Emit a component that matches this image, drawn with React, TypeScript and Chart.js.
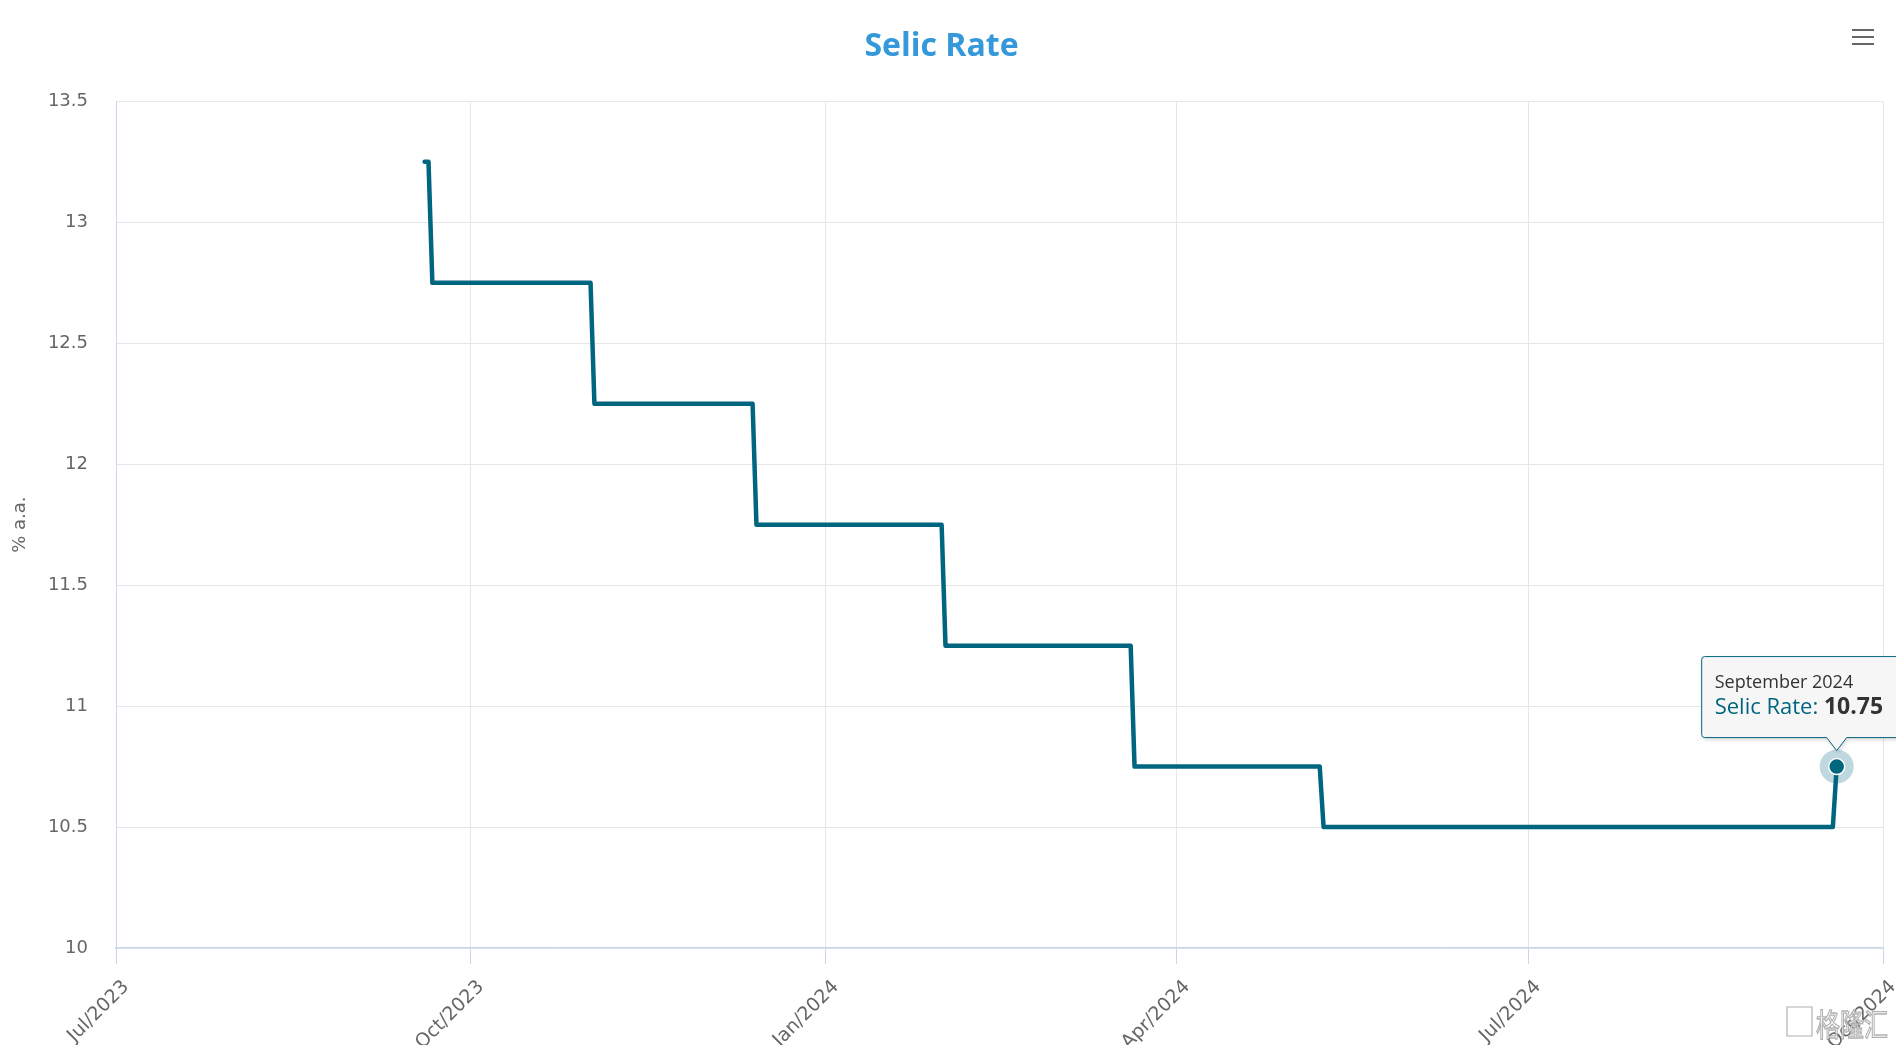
import React, { useEffect, useRef } from 'react';
import { Chart, registerables } from 'chart.js';

Chart.register(...registerables);

const chartTitle = 'Selic Rate';
const seriesName = 'Selic Rate';
const yAxisTitle = '% a.a.';
const highlightLabel = 'September 2024';
const watermarkText = '格隆汇';

// Selic rate path (change points, daily resolution)
const dates = [
  '2023-09-19', '2023-09-20', '2023-09-21',
  '2023-11-01', '2023-11-02',
  '2023-12-13', '2023-12-14',
  '2024-01-31', '2024-02-01',
  '2024-03-20', '2024-03-21',
  '2024-05-08', '2024-05-09',
  '2024-09-18', '2024-09-19',
];
const rates = [
  13.25, 13.25, 12.75,
  12.75, 12.25,
  12.25, 11.75,
  11.75, 11.25,
  11.25, 10.75,
  10.75, 10.5,
  10.5, 10.75,
];

const xTickDates = ['2023-07-01', '2023-10-01', '2024-01-01', '2024-04-01', '2024-07-01', '2024-10-01'];
const xTickLabels = ['Jul/2023', 'Oct/2023', 'Jan/2024', 'Apr/2024', 'Jul/2024', 'Oct/2024'];
const yTicks = [10, 10.5, 11, 11.5, 12, 12.5, 13, 13.5];

const toTs = (d: string) => Date.parse(d + 'T00:00:00Z');

const LINE = '#00657f';

export default function App() {
  const ref = useRef<HTMLCanvasElement | null>(null);

  useEffect(() => {
    if (!ref.current) return;
    const lastIdx = rates.length - 1;

    const haloPlugin = {
      id: 'halo',
      beforeDatasetsDraw(chart: any) {
        const el = chart.getDatasetMeta(0).data[lastIdx];
        if (!el) return;
        const ctx = chart.ctx;
        ctx.save();
        ctx.beginPath();
        ctx.arc(el.x, el.y, 17, 0, Math.PI * 2);
        ctx.fillStyle = 'rgba(0,101,127,0.25)';
        ctx.fill();
        ctx.restore();
      },
    };

    const overlayPlugin = {
      id: 'overlay',
      afterDraw(chart: any) {
        const ctx = chart.ctx;
        const el = chart.getDatasetMeta(0).data[lastIdx];
        // tooltip
        if (el) {
          const px = el.x;
          const py = el.y;
          const left = px - 135;
          const top = py - 110;
          const w = 280;
          const h = 81;
          const bottom = top + h;
          const tipY = py - 16;
          ctx.save();
          ctx.beginPath();
          const r = 3;
          ctx.moveTo(left + r, top);
          ctx.lineTo(left + w - r, top);
          ctx.quadraticCurveTo(left + w, top, left + w, top + r);
          ctx.lineTo(left + w, bottom - r);
          ctx.quadraticCurveTo(left + w, bottom, left + w - r, bottom);
          ctx.lineTo(px + 10, bottom);
          ctx.lineTo(px, tipY);
          ctx.lineTo(px - 10, bottom);
          ctx.lineTo(left + r, bottom);
          ctx.quadraticCurveTo(left, bottom, left, bottom - r);
          ctx.lineTo(left, top + r);
          ctx.quadraticCurveTo(left, top, left + r, top);
          ctx.closePath();
          ctx.shadowColor = 'rgba(0,0,0,0.18)';
          ctx.shadowBlur = 4;
          ctx.shadowOffsetX = 1;
          ctx.shadowOffsetY = 2;
          ctx.fillStyle = 'rgba(247,247,247,0.96)';
          ctx.fill();
          ctx.shadowColor = 'transparent';
          ctx.lineWidth = 1;
          ctx.strokeStyle = LINE;
          ctx.stroke();

          ctx.textAlign = 'left';
          ctx.textBaseline = 'alphabetic';
          ctx.fillStyle = '#333333';
          ctx.font = "18px 'Open Sans'";
          ctx.fillText(highlightLabel, left + 13, top + 31);
          ctx.font = "22px 'Open Sans'";
          ctx.fillStyle = LINE;
          const lab = seriesName + ': ';
          ctx.fillText(lab, left + 13, top + 57);
          const lw = ctx.measureText(lab).width;
          ctx.font = "bold 23px 'Open Sans'";
          ctx.fillStyle = '#333333';
          ctx.fillText(String(rates[lastIdx]), left + 13 + lw, top + 57);
          ctx.restore();
        }
        // hamburger menu
        ctx.save();
        ctx.strokeStyle = '#666666';
        ctx.lineWidth = 2;
        [30, 37, 44].forEach((y) => {
          ctx.beginPath();
          ctx.moveTo(1852, y);
          ctx.lineTo(1874, y);
          ctx.stroke();
        });
        // watermark
        ctx.save();
        ctx.translate(1816, 1036);
        ctx.scale(1, 1.3);
        ctx.font = "24px 'Noto Sans CJK SC'";
        ctx.textAlign = 'left';
        ctx.textBaseline = 'alphabetic';
        ctx.lineWidth = 1;
        ctx.strokeStyle = 'rgba(150,150,150,0.75)';
        ctx.fillStyle = 'rgba(255,255,255,0.75)';
        ctx.fillText(watermarkText, 0, 0);
        ctx.strokeText(watermarkText, 0, 0);
        ctx.restore();
        ctx.lineWidth = 1.2;
        ctx.strokeStyle = 'rgba(150,150,150,0.75)';
        ctx.beginPath();
        ctx.rect(1787, 1007, 25, 29);
        ctx.stroke();
        ctx.restore();
      },
    };

    const chart = new Chart(ref.current, {
      type: 'line',
      data: {
        datasets: [
          {
            label: seriesName,
            data: dates.map((d, i) => ({ x: toTs(d), y: rates[i] })),
            borderColor: LINE,
            backgroundColor: LINE,
            borderWidth: 4.5,
            tension: 0,
            borderJoinStyle: 'round',
            borderCapStyle: 'round',
            pointRadius: rates.map((_, i) => (i === lastIdx ? 8 : 0)),
            pointBackgroundColor: LINE,
            pointBorderColor: '#ffffff',
            pointBorderWidth: 1.5,
            fill: false,
          } as any,
        ],
      },
      options: {
        responsive: false,
        animation: false,
        events: [],
        layout: { padding: { left: 0, right: 13, top: 0, bottom: 0 } },
        plugins: {
          legend: { display: false },
          tooltip: { enabled: false },
          title: {
            display: true,
            text: chartTitle,
            color: '#3498db',
            font: { family: "'Open Sans'", size: 32, weight: 'bold' },
            padding: { top: 28, bottom: 35 },
          },
        },
        scales: {
          x: {
            type: 'linear',
            min: toTs(xTickDates[0]),
            max: toTs(xTickDates[xTickDates.length - 1]),
            afterBuildTicks: (scale: any) => {
              scale.ticks = xTickDates.map((d) => ({ value: toTs(d) }));
            },
            afterFit: (scale: any) => {
              scale.height = 97;
              scale.paddingRight = 0;
              scale.paddingLeft = 0;
            },
            ticks: {
              autoSkip: false,
              maxRotation: 45,
              minRotation: 45,
              padding: 12,
              labelOffset: 10,
              color: '#666666',
              font: { family: "'DejaVu Sans'", size: 19 },
              callback: (_v: any, i: number) => xTickLabels[i],
            },
            grid: {
              color: '#e6e6e6',
              tickColor: '#ccd6eb',
              tickLength: 16,
              drawTicks: true,
            },
            border: { color: '#ccd6eb', width: 1.5 },
          },
          y: {
            type: 'linear',
            min: yTicks[0],
            max: yTicks[yTicks.length - 1],
            afterBuildTicks: (scale: any) => {
              scale.ticks = yTicks.map((v) => ({ value: v }));
            },
            afterFit: (scale: any) => {
              scale.width = 116;
            },
            ticks: {
              padding: 28,
              color: '#666666',
              font: { family: "'DejaVu Sans'", size: 18 },
              callback: (v: any) => String(v),
            },
            grid: { color: '#e6e6e6', drawTicks: false },
            border: { color: '#ccd6eb', width: 1 },
            title: {
              display: true,
              text: yAxisTitle,
              color: '#666666',
              font: { family: "'DejaVu Sans'", size: 18 },
              padding: { top: 9.5, bottom: 0 },
            },
          },
        },
      },
      plugins: [haloPlugin, overlayPlugin],
    } as any);

    return () => chart.destroy();
  }, []);

  return (
    <div style={{ position: 'fixed', left: 0, top: 0, width: '1896px', height: '1045px', background: '#ffffff' }}>
      <canvas ref={ref} width={1896} height={1045} style={{ width: '1896px', height: '1045px' }} />
    </div>
  );
}
